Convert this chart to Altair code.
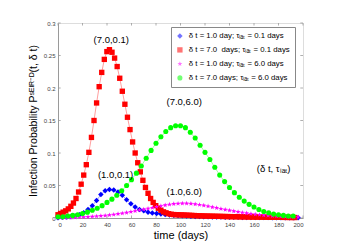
import altair as alt
import pandas as pd

# ---- data ----
series_labels = [
    "δ t = 1.0 day; τₗₐₜ = 0.1 days",
    "δ t = 7.0 \u00a0days; τₗₐₜ = 0.1 days",
    "δ t = 1.0 day; τₗₐₜ = 6.0 days",
    "δ t = 7.0 days; τₗₐₜ = 6.0 days",
]
series_colors = ["#0000FF", "#FF0000", "#FF00FF", "#00FF00"]
STAR = ("M0,-1L0.235,-0.324L0.951,-0.309L0.380,0.124L0.588,0.809L0,0.4"
        "L-0.588,0.809L-0.380,0.124L-0.951,-0.309L-0.235,-0.324Z")
series_shapes = ["diamond", "square", STAR, "circle"]
series_sizes = [30, 26, 24, 38]

red_step = 2.1
red_vals = [0.005, 0.007, 0.009, 0.011, 0.014, 0.018, 0.023, 0.030, 0.040, 0.052,
            0.066, 0.082, 0.101, 0.124, 0.150, 0.177, 0.202, 0.224, 0.244, 0.256,
            0.259, 0.255, 0.246, 0.233, 0.215, 0.195, 0.175, 0.155, 0.136, 0.117,
            0.100, 0.085, 0.071, 0.058, 0.047, 0.038, 0.030, 0.024, 0.019, 0.015,
            0.012, 0.0095, 0.008, 0.0066, 0.0058, 0.0053, 0.0050, 0.0049,
            0.0048, 0.0046, 0.0044, 0.0042, 0.0040, 0.0038, 0.0036, 0.0034, 0.0033, 0.0031,
            0.0030, 0.0029, 0.0028, 0.0027, 0.0026, 0.0025, 0.0024, 0.0023, 0.0022, 0.0021,
            0.0020, 0.0020, 0.0019, 0.0018, 0.0018, 0.0017, 0.0016, 0.0016, 0.0015, 0.0015,
            0.0014, 0.0014, 0.0013, 0.0013, 0.0012, 0.0012, 0.0011, 0.0011, 0.0010, 0.0010,
            0.0009, 0.0009, 0.0008, 0.0008, 0.0007]

blue_step = 3.5
blue_vals = [0.0005, 0.001, 0.0015, 0.002, 0.003, 0.005, 0.008, 0.013, 0.019, 0.027,
             0.036, 0.042, 0.044, 0.043, 0.040, 0.035, 0.028, 0.022, 0.017, 0.013,
             0.011, 0.009, 0.0078, 0.0068, 0.006, 0.0053, 0.0047, 0.0042, 0.0037, 0.0033,
             0.0030, 0.0027, 0.0024, 0.0022, 0.0020, 0.0018, 0.0016, 0.0015, 0.0014, 0.0013,
             0.0012, 0.0011, 0.0010, 0.0009, 0.0009, 0.0008, 0.0007, 0.0007, 0.0006, 0.0006,
             0.0005, 0.0005, 0.0004, 0.0004, 0.0004, 0.0003, 0.0003]

pink_step = 3.5
pink_vals = [0.0002, 0.0003, 0.0005, 0.0007, 0.0010, 0.0012, 0.0015, 0.0018, 0.0022, 0.0027,
             0.0032, 0.0038, 0.0045, 0.0053, 0.0062, 0.0072, 0.0083, 0.0095, 0.0108, 0.0120,
             0.0133, 0.0146, 0.0158, 0.0172, 0.0185, 0.0198, 0.0208, 0.0217, 0.0222, 0.0225,
             0.0224, 0.0220, 0.0213, 0.0204, 0.0193, 0.0181, 0.0168, 0.0155, 0.0142, 0.0129,
             0.0117, 0.0105, 0.0094, 0.0084, 0.0074, 0.0065, 0.0057, 0.0050, 0.0044, 0.0038,
             0.0033, 0.0028, 0.0024, 0.0021, 0.0018, 0.0015, 0.0013]

green_step = 4.0
green_vals = [0.002, 0.002, 0.003, 0.004, 0.005, 0.007, 0.009, 0.012, 0.015, 0.019,
              0.024, 0.029, 0.035, 0.042, 0.050, 0.059, 0.069, 0.080, 0.092, 0.104,
              0.115, 0.125, 0.133, 0.139, 0.142, 0.142, 0.139, 0.132, 0.123, 0.112,
              0.101, 0.090, 0.078, 0.066, 0.056, 0.047, 0.039, 0.032, 0.026, 0.021,
              0.017, 0.013, 0.010, 0.008, 0.006, 0.005, 0.004, 0.003, 0.003]

ann_text = ["(7.0,0.1)", "(1.0,0.1)", "(7.0,6.0)", "(1.0,6.0)", "(δ t, τₗₐₜ)"]
ann_day = [43.5, 47, 103, 103, 176]
ann_val = [0.274, 0.066, 0.179, 0.0395, 0.076]

x_ticks = [0, 20, 40, 60, 80, 100, 120, 140, 160, 180, 200]
y_ticks = [0, 0.05, 0.1, 0.15, 0.2, 0.25, 0.3]
X_MIN, X_MAX = 0, 200
Y_MIN, Y_MAX = 0, 0.3

# ---- tables ----
rows = []
for lab, vals, step in [(series_labels[0], blue_vals, blue_step),
                        (series_labels[1], red_vals, red_step),
                        (series_labels[2], pink_vals, pink_step),
                        (series_labels[3], green_vals, green_step)]:
    for i, v in enumerate(vals):
        rows.append({"day": round(i * step, 2), "p": v, "series": lab})
df = pd.DataFrame(rows)
ann = pd.DataFrame({"day": ann_day, "p": ann_val, "t": ann_text})

# inward tick marks (MATLAB style) on all four sides, sized in data units
tx_len = (Y_MAX - Y_MIN) * 0.013
ty_len = (X_MAX - X_MIN) * 0.011
xt_rows = []
for t in x_ticks:
    xt_rows.append({"x": t, "y1": Y_MIN, "y2": Y_MIN + tx_len})
    xt_rows.append({"x": t, "y1": Y_MAX - tx_len, "y2": Y_MAX})
yt_rows = []
for t in y_ticks:
    yt_rows.append({"y": t, "x1": X_MIN, "x2": X_MIN + ty_len})
    yt_rows.append({"y": t, "x1": X_MAX - ty_len, "x2": X_MAX})
xt = pd.DataFrame(xt_rows)
yt = pd.DataFrame(yt_rows)

FONT = "Liberation Sans"
AXC = "#9a9a9a"

xs = alt.Scale(domain=[X_MIN, X_MAX], nice=False)
ys = alt.Scale(domain=[Y_MIN, Y_MAX], nice=False)
cscale = alt.Scale(domain=series_labels, range=series_colors)
sscale = alt.Scale(domain=series_labels, range=series_shapes)

xax = alt.Axis(values=x_ticks, title="time (days)", orient="bottom", labelFontSize=6,
               labelColor="#444", titleFontSize=11, titleFont=FONT, labelFont=FONT,
               titleFontWeight="normal", titleColor="black",
               ticks=False, domainColor=AXC, grid=False,
               labelPadding=3, titlePadding=2)
yax = alt.Axis(values=y_ticks, format="~g", orient="left",
               title="Infection Probability Pˢᴱᴵᴿ⁻ᴰ(t, δ t)",
               labelFontSize=6, labelColor="#444", titleFontSize=10.5, titleFont=FONT,
               labelFont=FONT, titleFontWeight="normal", titleColor="black",
               ticks=False, domainColor=AXC, grid=False, labelPadding=3, titlePadding=5)

leg = alt.Legend(title=None, orient="none", legendX=113, legendY=4, labelFontSize=7.8,
                 labelFont=FONT, padding=5, rowPadding=5, strokeColor="#888",
                 fillColor="white", symbolSize=26, labelLimit=220, labelOffset=5,
                 symbolStrokeWidth=0)

X = alt.X("day:Q", scale=xs, axis=xax)
Y = alt.Y("p:Q", scale=ys, axis=yax)
C = alt.Color("series:N", scale=cscale, legend=leg)
S = alt.Shape("series:N", scale=sscale, legend=leg)

xticks_layer = alt.Chart(xt).mark_rule(color=AXC, strokeWidth=0.8).encode(
    x=alt.X("x:Q", scale=xs, axis=xax),
    y=alt.Y("y1:Q", scale=ys, axis=yax),
    y2="y2:Q",
)
yticks_layer = alt.Chart(yt).mark_rule(color=AXC, strokeWidth=0.8).encode(
    y=alt.Y("y:Q", scale=ys, axis=yax),
    x=alt.X("x1:Q", scale=xs, axis=xax),
    x2="x2:Q",
)

lines = alt.Chart(df).mark_line(strokeWidth=0.7, opacity=0.55).encode(
    x=X, y=Y, color=C, detail="series:N",
)

points = alt.Chart(df).mark_point(filled=True, opacity=1).encode(
    x=X, y=Y, color=C, shape=S,
    size=alt.Size("series:N", scale=alt.Scale(domain=series_labels, range=series_sizes), legend=None),
)

texts = alt.Chart(ann).mark_text(font=FONT, fontSize=9.5, color="black").encode(
    x=X, y=Y, text="t:N",
)

chart = alt.layer(xticks_layer, yticks_layer, lines, points, texts).properties(
    width=245, height=195,
    autosize=alt.AutoSizeParams(type="none"),
    padding={"left": 50, "top": 15, "right": 40, "bottom": 23},
).configure_view(stroke=AXC, strokeWidth=1).configure(background="white")

chart.save("out.html", embed_options={"renderer": "svg", "actions": False})
